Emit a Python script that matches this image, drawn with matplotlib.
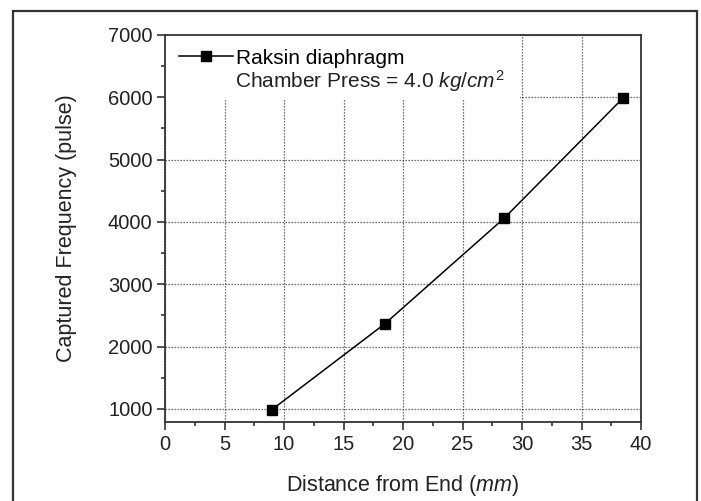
import numpy as np
import matplotlib.pyplot as plt
from matplotlib.patches import Rectangle
from matplotlib.ticker import MultipleLocator

plt.rcParams['font.family'] = ['Liberation Sans', 'DejaVu Sans']
plt.rcParams['mathtext.fontset'] = 'custom'
plt.rcParams['mathtext.rm'] = 'Liberation Sans'
plt.rcParams['mathtext.it'] = 'Liberation Sans:italic'

# data
distance = [9.0, 18.5, 28.5, 38.5]
frequency = [990, 2370, 4060, 5990]

xticks = [0, 5, 10, 15, 20, 25, 30, 35, 40]
yticks = [1000, 2000, 3000, 4000, 5000, 6000, 7000]

fig = plt.figure(figsize=(7.01, 5.01), dpi=100)
ax = fig.add_axes([165/701, 1-422/501, (641-165)/701, (422-35)/501])

# outer frame of the figure
fig.patches.append(Rectangle((13/701, -0.05), (697-13)/701, 1.05-11/501,
                             transform=fig.transFigure, fill=False,
                             edgecolor='#333333', lw=1.6))

ax.plot(distance, frequency, color='black', lw=1.1, marker='s', ms=7.5,
        mfc='black', mec='black', label='Raksin diaphragm', zorder=5)

ax.set_xlim(0, 40)
ax.set_ylim(790, 7000)
ax.set_xticks(xticks)
ax.set_yticks(yticks)
ax.xaxis.set_minor_locator(MultipleLocator(2.5))
ax.yaxis.set_minor_locator(MultipleLocator(500))
ax.tick_params(which='major', direction='out', length=6, width=1.1,
               labelsize=14.5, pad=3, colors='#222222')
ax.tick_params(which='minor', direction='out', length=3, width=1.1,
               colors='#222222')
for s in ax.spines.values():
    s.set_linewidth(1.3)
    s.set_color('#333333')

ax.grid(True, which='major', color='#444444', lw=0.9, linestyle=(0, (1, 1.4)))
ax.set_axisbelow(True)

# white box behind the legend hides the grid there
ax.add_patch(Rectangle((0, 0.835), 0.745, 0.165, transform=ax.transAxes,
                       facecolor='white', edgecolor='none', zorder=1))

leg = ax.legend(loc='upper left', bbox_to_anchor=(0.0, 1.0), frameon=False,
                fontsize=15, handlelength=2.6, handletextpad=0.15,
                borderaxespad=0.3, borderpad=0.35)
ax.text(0.147, 0.88, r'Chamber Press = 4.0 $\it{kg/cm}^{2}$',
        transform=ax.transAxes, fontsize=15, va='center', ha='left',
        color='#222222')

ax.set_xlabel(r'Distance from End ($\it{mm}$)', fontsize=15.5, labelpad=14,
              color='#222222')
ax.set_ylabel('Captured Frequency (pulse)', fontsize=15.5, labelpad=22,
              color='#222222')

plt.savefig('out.png', dpi=100)
